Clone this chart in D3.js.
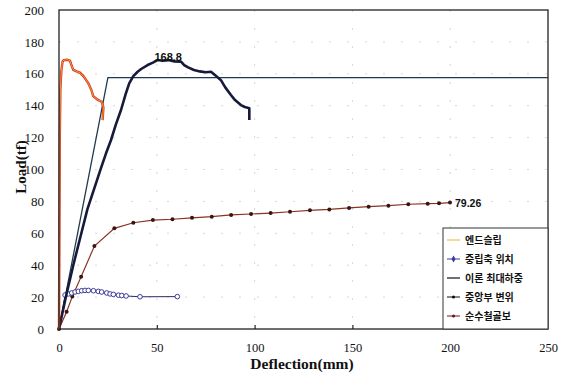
<!DOCTYPE html>
<html lang="ko">
<head>
<meta charset="UTF-8">
<title>Load-Deflection</title>
<style>
  body { margin: 0; padding: 0; background: #fff; }
  svg { display: block; }
  .tick text { font-family: "Liberation Serif", "DejaVu Serif", serif; fill: #111; }
</style>
<script src="https://d3js.org/d3.v7.min.js"></script>
</head>
<body>
<script>
const width = 573, height = 373;

// axis ticks
const xTicks = [0, 50, 100, 150, 200, 250];
const yTicks = [0, 20, 40, 60, 80, 100, 120, 140, 160, 180, 200];

// series names (legend order)
const seriesNames = ["엔드슬립", "중립축 위치", "이론 최대하중", "중앙부 변위", "순수철골보"];

// 엔드슬립
const endSlipX = [0, 0.2, 0.4, 0.7, 1.2, 1.8, 2.5, 4, 5.6, 6.2, 7.3, 9, 10.7, 12.5, 15, 16.5, 17.5, 19.5, 21.8, 22.7, 22.5, 22.3];
const endSlipY = [0, 60, 120, 150, 162, 167.5, 168.6, 168.8, 168.3, 166, 162.5, 161.5, 160.7, 158.5, 154, 150, 146, 144, 142.5, 139, 135, 131];

// 중립축 위치
const neutralX = [0, 3.1, 4.8, 6.5, 8.2, 9.9, 11.6, 13.3, 15, 17.6, 20.1, 21.8, 24.4, 26.1, 27.8, 30.4, 32.1, 34.3, 41.4, 60.5];
const neutralY = [0, 21.3, 22.0, 22.6, 23.2, 23.6, 24.0, 24.2, 24.2, 24.0, 23.6, 23.2, 22.6, 22.0, 21.7, 21.2, 21.0, 20.7, 20.2, 20.3];

// 이론 최대하중
const theoryX = [0, 25, 250];
const theoryY = [0, 157.6, 157.6];

// 중앙부 변위
const midX = [0, 3.5, 7.3, 11, 14.5, 18, 21.5, 24, 26.6, 29, 31.7, 34, 35.9, 38, 40.2, 42, 45.3, 48, 50.5, 53, 56, 59, 62.4, 64, 66, 69, 72, 75, 77.7, 80, 82.8, 85, 87.9, 90, 93, 95, 97.3, 97.3];
const midY = [0, 20, 40, 58, 75, 88, 101, 110, 118.5, 128, 137.3, 147, 154, 158.5, 161.3, 163, 165.5, 167, 168.7, 168.2, 168.6, 167.8, 167.6, 165.5, 164, 162.4, 161.5, 161, 161.3, 159, 156, 151.5, 146.7, 143.5, 140.4, 139.2, 138.4, 131];

// 순수철골보
const steelX = [0, 3.9, 6.8, 11.3, 18.1, 28.3, 38, 48, 58, 68, 78.1, 88, 98.2, 108.2, 118.1, 128.3, 138.2, 148.3, 158.3, 168.4, 178.6, 188.5, 194.3, 199.9];
const steelY = [0, 10.8, 20.3, 32.8, 52, 63.1, 66.6, 68.3, 68.8, 69.7, 70.4, 71.5, 72.1, 72.7, 73.5, 74.4, 75, 75.9, 76.7, 77.3, 78.2, 78.6, 78.8, 79.26];

const zip = (xs, ys) => xs.map((d, i) => [d, ys[i]]);

const mLeft = 59, mRight = 548, mTop = 10, mBottom = 329;

const x = d3.scaleLinear().domain([0, 250]).range([mLeft, mRight]);
const y = d3.scaleLinear().domain([0, 200]).range([mBottom, mTop]);

const svg = d3.select("body").append("svg")
  .attr("width", width)
  .attr("height", height);

// faint dotted grid
svg.append("g").selectAll("line")
  .data(yTicks.slice(1, -1))
  .join("line")
  .attr("x1", mLeft).attr("x2", mRight)
  .attr("y1", d => y(d)).attr("y2", d => y(d))
  .attr("stroke", "#d6d6d6").attr("stroke-width", 1)
  .attr("stroke-dasharray", "2,16");
svg.append("g").selectAll("line")
  .data(xTicks.slice(1, -1))
  .join("line")
  .attr("x1", d => x(d)).attr("x2", d => x(d))
  .attr("y1", mTop).attr("y2", mBottom)
  .attr("stroke", "#d6d6d6").attr("stroke-width", 1)
  .attr("stroke-dasharray", "2,16");

// axes labels
svg.append("g")
  .attr("transform", `translate(0,${mBottom})`)
  .call(d3.axisBottom(x).tickValues(xTicks).tickSize(0).tickPadding(14))
  .call(g => g.select(".domain").remove())
  .call(g => g.selectAll("text").attr("font-size", 12.5));
svg.append("g")
  .attr("transform", `translate(0,${mBottom})`)
  .call(d3.axisBottom(x).tickValues(xTicks.slice(1, -1)).tickSize(-4).tickFormat(""))
  .call(g => g.select(".domain").remove())
  .call(g => g.selectAll("line").attr("stroke", "#222").attr("stroke-width", 1.2));
svg.append("g")
  .attr("transform", `translate(${mLeft},0)`)
  .call(d3.axisLeft(y).tickValues(yTicks).tickSize(0).tickPadding(15))
  .call(g => g.select(".domain").remove())
  .call(g => g.selectAll("text").attr("font-size", 13));

const line = d3.line().x(d => x(d[0])).y(d => y(d[1]));

// 이론 최대하중
svg.append("path")
  .datum(zip(theoryX, theoryY))
  .attr("d", line)
  .attr("fill", "none")
  .attr("stroke", "#1f3a4e")
  .attr("stroke-width", 1.3);

// 순수철골보
svg.append("path")
  .datum(zip(steelX, steelY))
  .attr("d", line)
  .attr("fill", "none")
  .attr("stroke", "#8a3322")
  .attr("stroke-width", 1.2);
svg.append("g").selectAll("circle")
  .data(zip(steelX, steelY))
  .join("circle")
  .attr("cx", d => x(d[0])).attr("cy", d => y(d[1]))
  .attr("r", 2)
  .attr("fill", "#3a1414");

// 중립축 위치
svg.append("path")
  .datum(zip(neutralX, neutralY))
  .attr("d", line)
  .attr("fill", "none")
  .attr("stroke", "#2a2a66")
  .attr("stroke-width", 1);
svg.append("g").selectAll("circle")
  .data(zip(neutralX, neutralY).slice(1))
  .join("circle")
  .attr("cx", d => x(d[0])).attr("cy", d => y(d[1]))
  .attr("r", 2.3)
  .attr("fill", "#fff")
  .attr("stroke", "#3b3b9a")
  .attr("stroke-width", 1);

// 중앙부 변위
svg.append("path")
  .datum(zip(midX, midY))
  .attr("d", line)
  .attr("fill", "none")
  .attr("stroke", "#161a3a")
  .attr("stroke-width", 2.6)
  .attr("stroke-linejoin", "round");

// 엔드슬립
svg.append("path")
  .datum(zip(endSlipX, endSlipY))
  .attr("d", line)
  .attr("fill", "none")
  .attr("stroke", "#d8321a")
  .attr("stroke-width", 2.4)
  .attr("stroke-linejoin", "round");
svg.append("path")
  .datum(zip(endSlipX, endSlipY))
  .attr("d", line)
  .attr("fill", "none")
  .attr("stroke", "#f2b84a")
  .attr("stroke-width", 0.8);

// frame
svg.append("rect")
  .attr("x", mLeft).attr("y", mTop)
  .attr("width", mRight - mLeft).attr("height", mBottom - mTop)
  .attr("fill", "none")
  .attr("stroke", "#222")
  .attr("stroke-width", 1.3);

// annotations
svg.append("text")
  .attr("x", x(48.8)).attr("y", y(168.8) + 1)
  .attr("font-family", "Liberation Sans, Arial, sans-serif")
  .attr("font-size", 11).attr("font-weight", "bold")
  .attr("fill", "#111")
  .text("168.8");
svg.append("text")
  .attr("x", x(199.9) + 5).attr("y", y(79.26) + 4)
  .attr("font-family", "Liberation Sans, Arial, sans-serif")
  .attr("font-size", 10.5).attr("font-weight", "bold")
  .attr("fill", "#111")
  .text("79.26");

// axis titles
svg.append("text")
  .attr("x", 302).attr("y", 369)
  .attr("text-anchor", "middle")
  .attr("font-family", "Liberation Serif, serif")
  .attr("font-size", 15.5).attr("font-weight", "bold")
  .attr("fill", "#111")
  .text("Deflection(mm)");
svg.append("text")
  .attr("transform", "translate(26,167) rotate(-90)")
  .attr("text-anchor", "middle")
  .attr("font-family", "Liberation Serif, serif")
  .attr("font-size", 15).attr("font-weight", "bold")
  .attr("fill", "#111")
  .text("Load(tf)");

// legend
const legend = svg.append("g");
legend.append("rect")
  .attr("x", 443).attr("y", 228)
  .attr("width", mRight - 443).attr("height", mBottom - 228)
  .attr("fill", "#fff")
  .attr("stroke", "#333")
  .attr("stroke-width", 1);

const legendStyles = [
  { color: "#f0b040", width: 1, marker: null },
  { color: "#3b3b9a", width: 1, marker: "diamond" },
  { color: "#111", width: 1.2, marker: null },
  { color: "#111", width: 1, marker: "dot" },
  { color: "#6a1a1a", width: 1, marker: "dot" }
];
const legendY = d3.scaleLinear().domain([0, 4]).range([240, 316]);

seriesNames.forEach((name, i) => {
  const yy = legendY(i);
  const st = legendStyles[i];
  legend.append("line")
    .attr("x1", 447).attr("x2", 460)
    .attr("y1", yy).attr("y2", yy)
    .attr("stroke", st.color).attr("stroke-width", st.width);
  if (st.marker === "diamond") {
    legend.append("path")
      .attr("d", d3.symbol(d3.symbolDiamond, 14)())
      .attr("transform", `translate(453.5,${yy})`)
      .attr("fill", st.color);
  } else if (st.marker === "dot") {
    legend.append("circle")
      .attr("cx", 453.5).attr("cy", yy).attr("r", 1.6)
      .attr("fill", st.color);
  }
  legend.append("text")
    .attr("x", 465).attr("y", yy + 3.5)
    .attr("font-family", "Noto Sans CJK KR, sans-serif")
    .attr("font-size", 10).attr("font-weight", "bold")
    .attr("fill", "#111")
    .text(name);
});
</script>
</body>
</html>
